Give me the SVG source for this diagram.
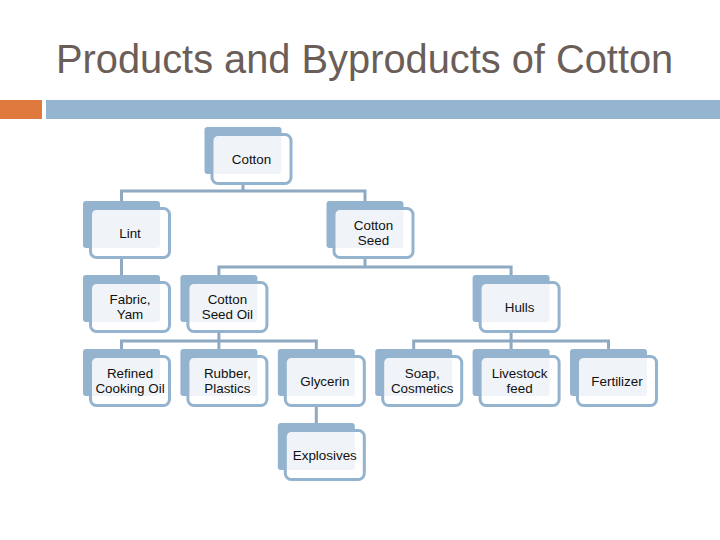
<svg xmlns="http://www.w3.org/2000/svg" width="720" height="540" viewBox="0 0 720 540">
<style>
.back{fill:#94b3cf}
.front{fill:#ffffff;fill-opacity:0.86;stroke:#94b3cf;stroke-width:3}
.lbl{font-family:"Liberation Sans",Arial,sans-serif;font-size:13.4px;fill:#111;text-anchor:middle}
.conn{fill:none;stroke:#8ea9c1;stroke-width:3}
.title{font-family:"Liberation Sans",Arial,sans-serif;font-size:39.8px;fill:#6b5d58}
</style>
<rect width="720" height="540" fill="#fff"/>
<text class="title" x="56" y="73">Products and Byproducts of Cotton</text>
<rect x="0" y="100" width="42" height="19" fill="#e0793e"/>
<rect x="46" y="100" width="674" height="19" fill="#94b4d0"/>
<g id="connectors">
<path class="conn" d="M243,185 V191 M121.5,201 V191 H365 V201"/>
<path class="conn" d="M121.5,259 V275"/>
<path class="conn" d="M365,259 V267 M218.9,275 V267 H511.1 V275"/>
<path class="conn" d="M218.9,333 V349 M121.5,349 V341 H316.3 V349"/>
<path class="conn" d="M511.1,333 V349 M413.7,349 V341 H608.5 V349"/>
<path class="conn" d="M316.3,407 V423"/>
</g>
<g id="cotton" transform="translate(204.5,127)"><rect class="back" width="77" height="47" rx="3"/><rect class="front" x="7.5" y="7.5" width="79" height="49" rx="6"/><text class="lbl" x="47" y="36.5">Cotton</text></g>
<g id="lint" transform="translate(83,201)"><rect class="back" width="77" height="47" rx="3"/><rect class="front" x="7.5" y="7.5" width="79" height="49" rx="6"/><text class="lbl" x="47" y="36.5">Lint</text></g>
<g id="cottonseed" transform="translate(326.5,201)"><rect class="back" width="77" height="47" rx="3"/><rect class="front" x="7.5" y="7.5" width="79" height="49" rx="6"/><text class="lbl" x="47" y="29">Cotton</text><text class="lbl" x="47" y="44">Seed</text></g>
<g id="fabric" transform="translate(83,275)"><rect class="back" width="77" height="47" rx="3"/><rect class="front" x="7.5" y="7.5" width="79" height="49" rx="6"/><text class="lbl" x="47" y="29">Fabric,</text><text class="lbl" x="47" y="44">Yam</text></g>
<g id="cottonseedoil" transform="translate(180.4,275)"><rect class="back" width="77" height="47" rx="3"/><rect class="front" x="7.5" y="7.5" width="79" height="49" rx="6"/><text class="lbl" x="47" y="29">Cotton</text><text class="lbl" x="47" y="44">Seed Oil</text></g>
<g id="hulls" transform="translate(472.6,275)"><rect class="back" width="77" height="47" rx="3"/><rect class="front" x="7.5" y="7.5" width="79" height="49" rx="6"/><text class="lbl" x="47" y="36.5">Hulls</text></g>
<g id="refined" transform="translate(83,349)"><rect class="back" width="77" height="47" rx="3"/><rect class="front" x="7.5" y="7.5" width="79" height="49" rx="6"/><text class="lbl" x="47" y="29">Refined</text><text class="lbl" x="47" y="44">Cooking Oil</text></g>
<g id="rubber" transform="translate(180.4,349)"><rect class="back" width="77" height="47" rx="3"/><rect class="front" x="7.5" y="7.5" width="79" height="49" rx="6"/><text class="lbl" x="47" y="29">Rubber,</text><text class="lbl" x="47" y="44">Plastics</text></g>
<g id="glycerin" transform="translate(277.8,349)"><rect class="back" width="77" height="47" rx="3"/><rect class="front" x="7.5" y="7.5" width="79" height="49" rx="6"/><text class="lbl" x="47" y="36.5">Glycerin</text></g>
<g id="soap" transform="translate(375.2,349)"><rect class="back" width="77" height="47" rx="3"/><rect class="front" x="7.5" y="7.5" width="79" height="49" rx="6"/><text class="lbl" x="47" y="29">Soap,</text><text class="lbl" x="47" y="44">Cosmetics</text></g>
<g id="livestock" transform="translate(472.6,349)"><rect class="back" width="77" height="47" rx="3"/><rect class="front" x="7.5" y="7.5" width="79" height="49" rx="6"/><text class="lbl" x="47" y="29">Livestock</text><text class="lbl" x="47" y="44">feed</text></g>
<g id="fertilizer" transform="translate(570,349)"><rect class="back" width="77" height="47" rx="3"/><rect class="front" x="7.5" y="7.5" width="79" height="49" rx="6"/><text class="lbl" x="47" y="36.5">Fertilizer</text></g>
<g id="explosives" transform="translate(277.8,423)"><rect class="back" width="77" height="47" rx="3"/><rect class="front" x="7.5" y="7.5" width="79" height="49" rx="6"/><text class="lbl" x="47" y="36.5">Explosives</text></g>
</svg>
